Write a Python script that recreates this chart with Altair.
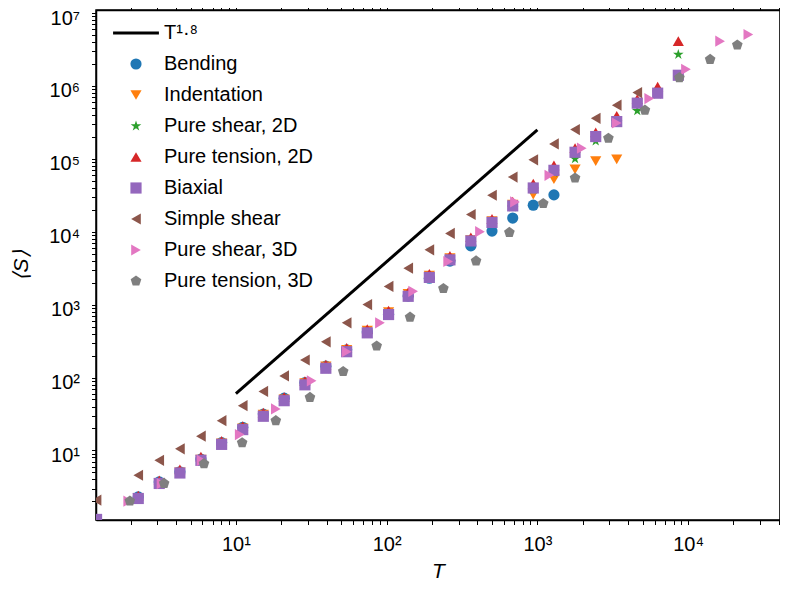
import altair as alt
import pandas as pd

FONT = "Liberation Sans, Arial, Helvetica, sans-serif"

# ---- data ----
line_label = "T\u00b9\u00b7\u2078"
series_names = ["Bending", "Indentation", "Pure shear, 2D", "Pure tension, 2D",
                "Biaxial", "Simple shear", "Pure shear, 3D", "Pure tension, 3D"]
palette = ["#000000", "#1f77b4", "#ff7f0e", "#2ca02c", "#d62728",
           "#9467bd", "#8c564b", "#e377c2", "#7f7f7f"]

bending_T = [2.25, 3.10, 4.25, 5.86, 8.04, 11.1, 15.2, 20.9, 28.7, 39.5, 54.3, 74.4,
             103, 139, 192, 263, 362, 500, 686, 939, 1288]
bending_S = [2.3, 3.7, 5.1, 7.6, 12.8, 20.8, 31.5, 52, 85, 143, 240, 420,
             740, 1310, 2300, 3950, 6390, 10200, 15400, 23100, 32000]

indent_T = [2.25, 3.10, 4.25, 5.86, 8.04, 11.1, 15.2, 20.9, 28.7, 39.5, 54.3, 74.4,
            103, 139, 192, 263, 362, 500, 686, 939, 1288, 1778, 2438, 3360]
indent_S = [2.2, 3.6, 5.0, 7.5, 12.5, 20, 31, 50, 84, 142, 240, 440,
            790, 1400, 2500, 4350, 7700, 14000, 23500, 32300, 52400, 71600, 92900, 98000]

shear2d_T = [2.25, 3.10, 4.25, 5.86, 8.04, 11.1, 15.2, 20.9, 28.7, 39.5, 54.3, 74.4,
             103, 139, 192, 263, 362, 500, 686, 939, 1288, 1778, 2438, 3360, 4600, 6280, 8610]
shear2d_S = [2.15, 3.45, 4.8, 7.2, 11.9, 19, 29, 47, 78, 131, 222, 400,
             715, 1270, 2300, 4000, 7200, 13000, 21800, 38000, 65000, 100000, 175000,
             315000, 456000, 770000, 2700000]

tension2d_T = [2.25, 3.10, 4.25, 5.86, 8.04, 11.1, 15.2, 20.9, 28.7, 39.5, 54.3, 74.4,
               103, 139, 192, 263, 362, 500, 686, 939, 1288, 1778, 2438, 3360, 4600, 6280, 8610]
tension2d_S = [2.4, 3.9, 5.5, 8.2, 13.5, 21.5, 33, 54, 89, 150, 255, 460,
               830, 1480, 2650, 4650, 8400, 15000, 25800, 45600, 81300, 140000, 230000,
               390000, 660000, 980000, 4110000]

biaxial_T = [1.19, 2.25, 3.10, 4.25, 5.86, 8.04, 11.1, 15.2, 20.9, 28.7, 39.5, 54.3, 74.4,
             103, 139, 192, 263, 362, 500, 686, 939, 1288, 1778, 2438, 3360, 4600, 6280, 8610]
biaxial_S = [1.13, 2.19, 3.52, 4.90, 7.31, 12.1, 19.3, 29.4, 48.1, 79.4, 134, 226, 410,
             731, 1300, 2360, 4110, 7470, 13400, 22600, 39800, 69500, 123000, 202000,
             324000, 580000, 795000, 1400000]

simple_T = [1.19, 2.25, 3.10, 4.25, 5.86, 8.04, 11.1, 15.2, 20.9, 28.7, 39.5, 54.3, 74.4,
            103, 139, 192, 263, 362, 500, 686, 939, 1288, 1778, 2438, 3360, 4600]
simple_S = [2.08, 4.56, 7.31, 10.5, 15.7, 25.6, 41.1, 64.4, 105, 174, 309, 562, 1000,
            1778, 3162, 5636, 9480, 17220, 31620, 56230, 96800, 160000, 251700, 359000,
            545000, 811000]

shear3d_T = [1.93, 3.21, 5.92, 10.6, 18.4, 31.8, 54.3, 90.3, 150, 256, 416, 710, 1200,
             1970, 3360, 5520, 9680, 16300, 25100]
shear3d_S = [2.01, 3.51, 7.31, 16.5, 37.1, 90.1, 226, 562, 1520, 3900, 10000, 25600, 59300,
             140000, 310000, 671000, 1690000, 4110000, 5070000]

tension3d_T = [1.98, 3.34, 6.14, 11.0, 18.4, 31.0, 51.5, 85.9, 143, 238, 392, 652, 1094,
               1778, 2960, 5170, 8750, 14000, 21200]
tension3d_S = [2.02, 3.52, 6.58, 12.7, 25.6, 53.3, 121, 270, 672, 1660, 3980, 9790, 24300,
               54500, 191000, 465000, 1300000, 2310000, 3630000]

fit_T = [10, 1000]
fit_S = [60, 250000]

x_ticks = [2, 3, 4, 5, 6, 7, 8, 9, 10, 20, 30, 40, 50, 60, 70, 80, 90,
           100, 200, 300, 400, 500, 600, 700, 800, 900,
           1000, 2000, 3000, 4000, 5000, 6000, 7000, 8000, 9000,
           10000, 20000, 30000, 40000]
y_ticks = [2, 3, 4, 5, 6, 7, 8, 9, 10, 20, 30, 40, 50, 60, 70, 80, 90,
           100, 200, 300, 400, 500, 600, 700, 800, 900,
           1000, 2000, 3000, 4000, 5000, 6000, 7000, 8000, 9000,
           10000, 20000, 30000, 40000, 50000, 60000, 70000, 80000, 90000,
           100000, 200000, 300000, 400000, 500000, 600000, 700000, 800000, 900000,
           1000000, 2000000, 3000000, 4000000, 5000000, 6000000, 7000000, 8000000, 9000000,
           10000000]

# ---- build tables ----
all_T = [bending_T, indent_T, shear2d_T, tension2d_T, biaxial_T, simple_T, shear3d_T, tension3d_T]
all_S = [bending_S, indent_S, shear2d_S, tension2d_S, biaxial_S, simple_S, shear3d_S, tension3d_S]
rows = []
for name, ts, ss in zip(series_names, all_T, all_S):
    for t, s in zip(ts, ss):
        rows.append({"series": name, "T": t, "S": s})
df = pd.DataFrame(rows)
df_line = pd.DataFrame({"T": fit_T, "S": fit_S})

star = ("M0,-1L0.225,-0.309L0.951,-0.309L0.363,0.118L0.588,0.809L0,0.382"
        "L-0.588,0.809L-0.363,0.118L-0.951,-0.309L-0.225,-0.309Z")
pentagon = "M0,-1L0.951,-0.309L0.588,0.809L-0.588,0.809L-0.951,-0.309Z"
line_sym = "M-4.1,-0.27H4.1V0.27H-4.1Z"
shapes = [line_sym, "circle", "triangle-down", star, "triangle-up", "square",
          "triangle-left", "triangle-right", pentagon]
domain = [line_label] + series_names

MAJ = "abs(log(datum.value)/LN10 - round(log(datum.value)/LN10)) < 0.001"
sup = "['\u2070','\u00b9','\u00b2','\u00b3','\u2074','\u2075','\u2076','\u2077']"
label_expr = f"({MAJ}) ? '10' + {sup}[round(log(datum.value)/LN10)] : ''"

xscale = alt.Scale(type="log", domain=[1.18, 40700], nice=False)
yscale = alt.Scale(type="log", domain=[1.11, 1.1e7], nice=False)

common = dict(grid=False, domainColor="black", domainWidth=1.5, tickColor="black",
              tickWidth=1, tickSize=4.5, labelFont=FONT, labelFontSize=20,
              labelColor="black", labelOverlap=False, labelFlush=False)

legend = alt.Legend(title=None, orient="none", legendX=30, legendY=13, padding=0,
                    labelFont=FONT, labelFontSize=20, labelColor="black", labelLimit=0,
                    symbolSize=125, symbolStrokeWidth=0, rowPadding=11, labelOffset=18)

points = alt.Chart(df).mark_point(filled=True, size=125, opacity=1, clip=True).encode(
    x=alt.X("T:Q", scale=xscale,
            axis=alt.Axis(orient="bottom", values=x_ticks, labelExpr=label_expr,
                          labelPadding=10, title="T", titleFont=FONT, titleFontSize=21,
                          titleFontStyle="italic", titleFontWeight="normal",
                          titleColor="black", titlePadding=6, **common)),
    y=alt.Y("S:Q", scale=yscale,
            axis=alt.Axis(orient="left", values=y_ticks, labelExpr=label_expr,
                          labelPadding=12, labelOffset=5, title="\u27e8S\u27e9", titleFont=FONT,
                          titleFontSize=21, titleFontStyle="italic",
                          titleFontWeight="normal", titleColor="black",
                          titlePadding=17, **common)),
    color=alt.Color("series:N", scale=alt.Scale(domain=domain, range=palette), legend=legend),
    shape=alt.Shape("series:N", scale=alt.Scale(domain=domain, range=shapes), legend=legend),
)

fit = alt.Chart(df_line).mark_line(color="black", strokeWidth=3).encode(
    x=alt.X("T:Q", scale=xscale,
            axis=alt.Axis(orient="top", values=x_ticks, labels=False, title=None, **common)),
    y=alt.Y("S:Q", scale=yscale,
            axis=alt.Axis(orient="right", values=y_ticks, labels=False, title=None, **common)),
)

chart = alt.layer(points, fit).resolve_axis(x="independent", y="independent").properties(
    width=684, height=510,
    autosize=alt.AutoSizeParams(type="none"),
    padding={"left": 88, "top": 2, "right": 0, "bottom": 73},
).configure_view(stroke="black", strokeWidth=1.5)

chart.save("out.html", embed_options={"renderer": "svg", "actions": False})
